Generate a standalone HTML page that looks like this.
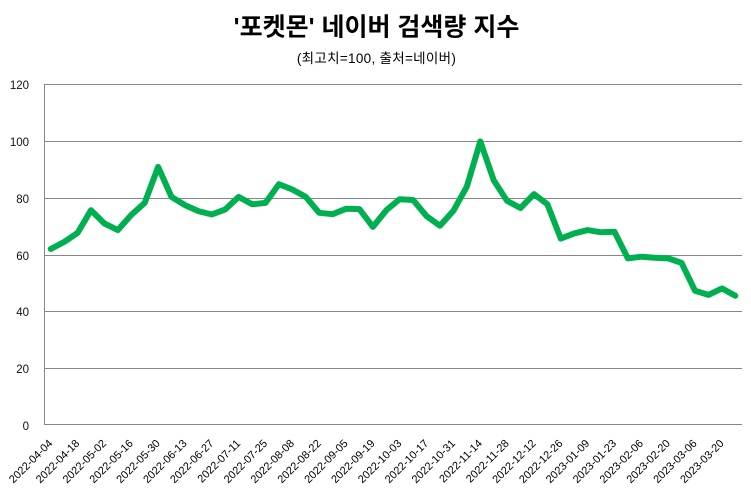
<!DOCTYPE html>
<html><head><meta charset="utf-8"><style>
html,body{margin:0;padding:0;background:#fff;}
svg{display:block;}
</style></head><body>
<svg width="751" height="492" viewBox="0 0 751 492" xmlns="http://www.w3.org/2000/svg">
<rect width="751" height="492" fill="#fff"/>
<text x="376.5" y="35.5" text-anchor="middle" font-family="'Liberation Sans','Noto Sans CJK KR',sans-serif" font-weight="bold" font-size="25" fill="#000">'포켓몬' 네이버 검색량 지수</text>
<text x="376.5" y="63" text-anchor="middle" font-family="'Liberation Sans','Noto Sans CJK KR',sans-serif" font-size="13.5" letter-spacing="0.3" fill="#000">(최고치=100, 출처=네이버)</text>
<g stroke="#878787" stroke-width="1" shape-rendering="crispEdges">
<line x1="44" y1="84.5" x2="742" y2="84.5"/>
<line x1="44" y1="141.5" x2="742" y2="141.5"/>
<line x1="44" y1="198.5" x2="742" y2="198.5"/>
<line x1="44" y1="255.5" x2="742" y2="255.5"/>
<line x1="44" y1="311.5" x2="742" y2="311.5"/>
<line x1="44" y1="368.5" x2="742" y2="368.5"/>
<line x1="44" y1="424.5" x2="742" y2="424.5"/>
<line x1="44.5" y1="84" x2="44.5" y2="425"/>
</g>
<g font-family="'Liberation Sans',sans-serif" font-size="11.5" fill="#111" text-anchor="end">
<text x="29" y="89">120</text>
<text x="29" y="146">100</text>
<text x="29" y="203">80</text>
<text x="29" y="260">60</text>
<text x="29" y="316">40</text>
<text x="29" y="373">20</text>
<text x="29" y="430">0</text>
</g>
<polyline fill="none" stroke="#00b050" stroke-width="6" stroke-linejoin="round" stroke-linecap="round" points="50.7,249.0 64.1,242.0 77.6,232.9 91.0,210.2 104.4,223.5 117.8,230.1 131.2,215.0 144.7,202.9 158.1,166.9 171.5,196.9 184.9,205.1 198.4,211.1 211.8,214.5 225.2,209.4 238.6,196.9 252.1,204.3 265.5,202.9 278.9,184.2 292.3,189.5 305.8,196.9 319.2,212.8 332.6,214.2 346.0,208.8 359.4,209.1 372.9,226.9 386.3,210.2 399.7,199.2 413.1,200.0 426.6,216.2 440.0,225.8 453.4,210.8 466.8,186.7 480.3,141.4 493.7,180.2 507.1,200.9 520.5,208.0 534.0,194.1 547.4,204.3 560.8,238.6 574.2,233.4 587.6,230.1 601.1,232.3 614.5,231.8 627.9,258.4 641.3,256.7 654.8,257.8 668.2,258.4 681.6,262.9 695.0,290.7 708.5,294.9 721.9,288.4 735.3,295.8"/>
<g font-family="'Liberation Sans',sans-serif" font-size="11" fill="#000" text-anchor="end">
<text transform="translate(53.2,444) rotate(-45)">2022-04-04</text>
<text transform="translate(80.1,444) rotate(-45)">2022-04-18</text>
<text transform="translate(106.9,444) rotate(-45)">2022-05-02</text>
<text transform="translate(133.7,444) rotate(-45)">2022-05-16</text>
<text transform="translate(160.6,444) rotate(-45)">2022-05-30</text>
<text transform="translate(187.4,444) rotate(-45)">2022-06-13</text>
<text transform="translate(214.3,444) rotate(-45)">2022-06-27</text>
<text transform="translate(241.1,444) rotate(-45)">2022-07-11</text>
<text transform="translate(268.0,444) rotate(-45)">2022-07-25</text>
<text transform="translate(294.8,444) rotate(-45)">2022-08-08</text>
<text transform="translate(321.7,444) rotate(-45)">2022-08-22</text>
<text transform="translate(348.5,444) rotate(-45)">2022-09-05</text>
<text transform="translate(375.4,444) rotate(-45)">2022-09-19</text>
<text transform="translate(402.2,444) rotate(-45)">2022-10-03</text>
<text transform="translate(429.1,444) rotate(-45)">2022-10-17</text>
<text transform="translate(455.9,444) rotate(-45)">2022-10-31</text>
<text transform="translate(482.8,444) rotate(-45)">2022-11-14</text>
<text transform="translate(509.6,444) rotate(-45)">2022-11-28</text>
<text transform="translate(536.5,444) rotate(-45)">2022-12-12</text>
<text transform="translate(563.3,444) rotate(-45)">2022-12-26</text>
<text transform="translate(590.1,444) rotate(-45)">2023-01-09</text>
<text transform="translate(617.0,444) rotate(-45)">2023-01-23</text>
<text transform="translate(643.8,444) rotate(-45)">2023-02-06</text>
<text transform="translate(670.7,444) rotate(-45)">2023-02-20</text>
<text transform="translate(697.5,444) rotate(-45)">2023-03-06</text>
<text transform="translate(724.4,444) rotate(-45)">2023-03-20</text>
</g>
</svg>
</body></html>
